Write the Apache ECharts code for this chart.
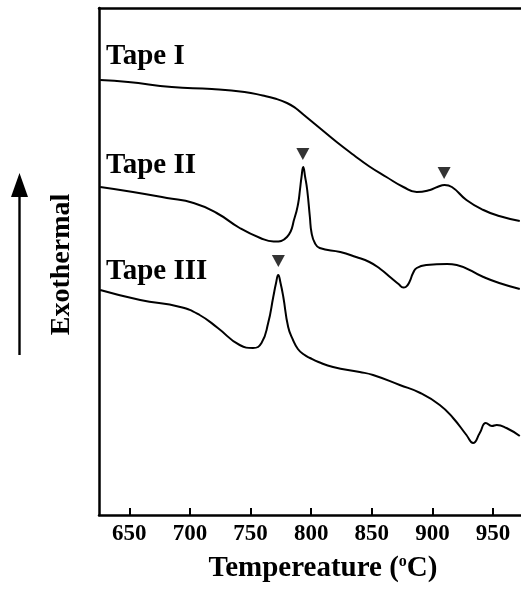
<!DOCTYPE html>
<html>
<head>
<meta charset="utf-8">
<script src="https://cdn.jsdelivr.net/npm/echarts@6/dist/echarts.min.js"></script>
<style>
  html, body { margin: 0; padding: 0; background: #fff; }
  #chart { width: 521px; height: 589px; }
</style>
</head>
<body>
<div id="chart"></div>
<script>
// DSC curves, x = temperature (C), y = arbitrary heat flow units (offset per tape)
var tapeI = [
  [626, 435], [649, 433], [685, 428], [718, 426], [745, 423], [760, 419.5],
  [770, 416.5], [780, 412], [787, 407], [793, 401], [800, 394], [807, 387],
  [821, 373], [835, 360], [848, 348.5], [862, 338], [876, 328], [887, 323],
  [898, 325], [904, 328], [910, 330], [916, 328], [928, 315], [942, 305],
  [955, 299], [972, 294]
];
var tapeII = [
  [626, 328], [653, 323], [681, 317], [703, 312], [722, 302], [741, 287],
  [758, 277], [769, 273.5], [780, 278], [786.5, 298], [789.3, 312], [790.7, 325],
  [792, 338], [793.4, 348], [795, 338], [796.7, 325], [798.9, 298], [800.3, 282],
  [803, 272], [807, 267], [824, 263], [837, 258], [848, 253], [857, 246],
  [866, 237], [872, 231], [876, 227.5], [878, 228], [881, 233], [884, 242],
  [887, 247], [895, 250], [912, 251], [920, 250], [942, 238], [955, 232],
  [972, 226]
];
var tapeIII = [
  [626, 225], [659, 215], [692, 208], [708, 200], [723, 187], [741, 170],
  [752, 167], [759, 172], [764.5, 192], [768.7, 218], [771, 232], [772.8, 240],
  [774.7, 232], [777, 218], [781, 188], [785, 175], [789, 166], [794, 160.5],
  [799, 157], [806, 153], [818, 148], [840, 143], [851, 140], [873, 130],
  [890, 122], [906, 110], [917, 97], [928, 80], [933.5, 72], [939, 82],
  [944, 92], [949, 89], [953, 90], [961, 87], [972, 79]
];
// peak markers (triangles)
var markerTemps = [909.6, 793.1, 772.9];
var markerValues = [342, 361, 254];
var tapeNames = ['Tape I', 'Tape II', 'Tape III'];

var serif = 'Liberation Serif';

var markers = [];
for (var i = 0; i < markerTemps.length; i++) {
  markers.push([markerTemps[i], markerValues[i]]);
}

function curve(name, data) {
  return {
    name: name,
    type: 'line',
    data: data,
    showSymbol: false,
    smooth: 0.5,
    lineStyle: { color: '#000', width: 2 },
    silent: true
  };
}

var chart = echarts.init(document.getElementById('chart'));
chart.setOption({
  animation: false,
  backgroundColor: '#fff',
  grid: { left: 99, right: 0, top: 8, bottom: 74 },
  xAxis: [{
    type: 'value',
    min: 625,
    max: 973,
    splitNumber: 5,
    minInterval: 50,
    maxInterval: 50,
    name: 'Tempereature ({sup|o}C)',
    nameLocation: 'middle',
    nameGap: 39,
    nameTextStyle: {
      fontFamily: serif, fontWeight: 'bold', fontSize: 29, color: '#000',
      padding: [0, 0, 0, 26],
      rich: {
        sup: { fontFamily: serif, fontWeight: 'bold', fontSize: 16, color: '#000', verticalAlign: 'top', padding: [0, 0, 13, 0] }
      }
    },
    axisLine: { lineStyle: { color: '#000', width: 2.5 } },
    axisTick: { inside: true, length: 7, lineStyle: { color: '#000', width: 2 } },
    axisLabel: {
      showMinLabel: false, showMaxLabel: false,
      margin: 8, fontFamily: serif, fontWeight: 'bold', fontSize: 23, color: '#000'
    },
    splitLine: { show: false }
  }, {
    type: 'value',
    position: 'top',
    min: 625,
    max: 973,
    axisLine: { lineStyle: { color: '#000', width: 2.5 } },
    axisTick: { show: false },
    axisLabel: { show: false },
    splitLine: { show: false }
  }],
  yAxis: {
    type: 'value',
    min: 0,
    max: 507,
    name: 'Exothermal',
    nameLocation: 'middle',
    nameGap: 23,
    nameTextStyle: { fontFamily: serif, fontWeight: 'bold', fontSize: 28, color: '#000', padding: [0, 6, 0, 0] },
    axisLine: { show: true, lineStyle: { color: '#000', width: 2.5 } },
    axisTick: { show: false },
    axisLabel: { show: false },
    splitLine: { show: false }
  },
  series: [
    curve(tapeNames[0], tapeI),
    curve(tapeNames[1], tapeII),
    curve(tapeNames[2], tapeIII),
    {
      type: 'scatter',
      data: markers,
      symbol: 'triangle',
      symbolRotate: 180,
      symbolSize: [13, 12],
      itemStyle: { color: '#000' },
      silent: true
    }
  ],
  graphic: [
    { type: 'text', left: 106, top: 42, style: { text: tapeNames[0], font: 'bold 29px "Liberation Serif"', fill: '#000' } },
    { type: 'text', left: 106, top: 151, style: { text: tapeNames[1], font: 'bold 29px "Liberation Serif"', fill: '#000' } },
    { type: 'text', left: 106, top: 257, style: { text: tapeNames[2], font: 'bold 29px "Liberation Serif"', fill: '#000' } },
    // upward arrow next to the y axis name
    { type: 'line', shape: { x1: 19.5, y1: 355, x2: 19.5, y2: 192 }, style: { stroke: '#000', lineWidth: 2.4 } },
    { type: 'polygon', shape: { points: [[19.5, 173], [11, 197], [28, 197]] }, style: { fill: '#000' } }
  ]
});
</script>
</body>
</html>
